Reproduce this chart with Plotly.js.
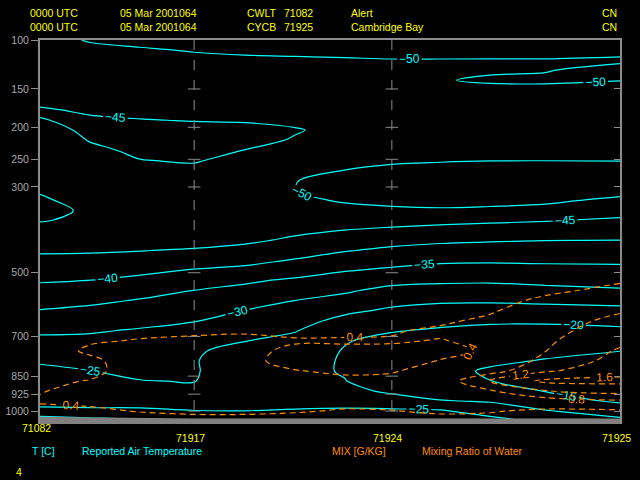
<!DOCTYPE html>
<html><head><meta charset="utf-8">
<script src="https://cdn.plot.ly/plotly-3.0.1.min.js"></script>
<style>html,body{margin:0;padding:0;background:#000;}#chart{width:640px;height:480px;}</style>
</head><body><div id="chart"></div>
<script>
const KAPPA = 0.286;
const stationIds = ['71082', '71917', '71924', '71925'];
const stationDist = [0, 481, 1098, 1810];
const surfacePressure = [1026, 1034, 1034, 1034];
const mandatoryLevels = [150, 200, 250, 300, 500, 700, 850, 925, 1000];
const tickLevels = [100, 150, 200, 250, 300, 500, 700, 850, 925, 1000];
const tickLabels = ['100', '150', '200', '250', '300', '500', '700', '850', '925', '1000'];
const headerLine1 = ['0000 UTC', '05 Mar 2001064', 'CWLT', '71082', 'Alert', 'CN'];
const headerLine2 = ['0000 UTC', '05 Mar 2001064', 'CYCB', '71925', 'Cambridge Bay', 'CN'];
const footerTemp = ['T [C]', 'Reported Air Temperature'];
const footerMix = ['MIX [G/KG]', 'Mixing Ratio of Water'];
const footerNote = '4';

const gridDist = [0, 156, 312, 481, 640, 796, 952, 1098, 1248, 1404, 1576, 1810];
const gridPressure = [100,109,119,129,140,151,163,176,190,204,219,235,252,269,287,306,327,348,369,392,416,441,467,494,522,551,582,613,646,680,715,752,790,829,870,912,955,1000,1046];
const temperature = [
 [-49.0,-50.2,-50.8,-51.3,-51.5,-51.6,-51.6,-51.7,-51.7,-51.7,-51.7,-51.6],
 [-48.5,-49.4,-49.7,-50.2,-50.4,-50.5,-50.6,-50.7,-50.7,-50.6,-50.6,-50.6],
 [-48.0,-48.7,-48.9,-49.3,-49.6,-49.7,-49.8,-49.9,-49.9,-49.9,-49.9,-49.7],
 [-47.5,-48.0,-48.2,-48.5,-48.8,-49.0,-49.1,-49.5,-49.7,-49.8,-49.9,-50.6],
 [-47.0,-47.3,-47.6,-47.8,-48.1,-48.3,-48.4,-49.3,-49.9,-50.2,-50.3,-50.05],
 [-46.5,-46.7,-47.0,-47.1,-47.4,-47.6,-47.8,-49.0,-49.6,-49.6,-49.5,-49.4],
 [-45.8,-46.0,-46.4,-46.5,-46.7,-46.9,-47.2,-48.6,-49.0,-49.2,-49.2,-49.1],
 [-44.7,-45.4,-45.7,-45.9,-46.0,-46.2,-46.6,-48.1,-48.4,-48.8,-48.9,-48.8],
 [-45.1,-44.6,-44.9,-45.1,-45.2,-45.6,-46.1,-47.7,-48.0,-48.4,-48.6,-48.6],
 [-46.5,-44.2,-44.2,-44.3,-44.4,-44.8,-45.8,-47.5,-47.9,-48.3,-48.5,-48.6],
 [-47.5,-44.8,-43.9,-43.8,-44.2,-45.2,-46.1,-47.7,-48.2,-48.5,-48.7,-48.8],
 [-48.0,-45.8,-44.3,-43.8,-45.05,-46.4,-47.0,-48.5,-49.0,-49.2,-49.3,-49.3],
 [-48.5,-46.8,-45.1,-44.7,-46.2,-47.5,-48.6,-49.6,-49.8,-49.95,-49.97,-49.9],
 [-49.0,-47.6,-46.0,-45.8,-47.2,-48.5,-50.05,-50.6,-50.9,-51.0,-51.0,-51.2],
 [-49.4,-48.2,-46.8,-46.8,-48.0,-49.9,-51.0,-51.3,-51.5,-51.6,-51.8,-52.0],
 [-49.8,-48.7,-47.4,-47.6,-48.6,-50.05,-51.2,-51.5,-51.7,-51.8,-52.0,-51.3],
 [-50.3,-49.3,-47.9,-48.2,-48.9,-49.3,-50.3,-50.8,-51.0,-51.0,-50.6,-49.2],
 [-50.6,-49.7,-48.2,-48.5,-49.0,-48.6,-49.0,-49.4,-49.6,-49.3,-48.9,-46.8],
 [-50.2,-49.4,-48.2,-48.5,-48.7,-47.6,-47.0,-46.5,-46.2,-45.8,-45.3,-44.3],
 [-49.0,-48.3,-47.7,-47.9,-47.6,-46.0,-44.95,-44.3,-43.6,-43.0,-42.8,-42.2],
 [-47.3,-46.9,-46.5,-46.5,-45.8,-44.2,-42.6,-41.6,-40.8,-40.4,-40.05,-39.95],
 [-45.5,-45.4,-45.1,-44.6,-43.6,-42.1,-40.3,-39.0,-38.2,-37.8,-38.0,-37.9],
 [-44.0,-43.9,-43.5,-42.2,-41.3,-39.6,-37.7,-36.6,-35.8,-35.6,-35.8,-35.9],
 [-42.2,-42.2,-41.0,-39.6,-38.7,-36.9,-35.2,-34.2,-33.2,-33.0,-33.3,-33.5],
 [-40.4,-39.95,-38.8,-37.5,-35.6,-34.3,-32.9,-31.3,-30.8,-30.6,-31.2,-31.5],
 [-38.6,-38.1,-36.8,-34.95,-33.9,-32.2,-30.6,-28.7,-28.2,-28.2,-28.7,-29.5],
 [-36.7,-36.0,-34.6,-33.7,-32.1,-29.95,-28.5,-26.5,-25.6,-25.5,-25.9,-26.5],
 [-34.8,-33.9,-32.8,-32.0,-29.9,-28.3,-26.0,-24.2,-23.3,-23.2,-23.3,-23.6],
 [-32.8,-32.0,-31.2,-30.2,-28.2,-26.8,-23.6,-22.5,-21.5,-20.8,-20.8,-21.5],
 [-30.8,-30.4,-29.6,-28.5,-26.6,-25.2,-22.0,-20.3,-19.3,-18.6,-18.5,-19.0],
 [-28.9,-29.0,-28.3,-26.8,-25.1,-23.9,-20.3,-18.6,-17.9,-17.2,-17.0,-16.8],
 [-27.1,-27.7,-27.3,-25.4,-23.9,-22.6,-19.7,-17.6,-16.9,-16.2,-15.8,-15.05],
 [-25.4,-26.4,-26.4,-25.2,-23.2,-21.6,-19.6,-17.2,-16.3,-15.6,-14.8,-13.8],
 [-24.2,-24.95,-25.7,-25.3,-22.8,-21.1,-19.7,-17.3,-16.0,-14.6,-13.9,-13.0],
 [-23.8,-23.9,-24.9,-25.1,-22.6,-21.0,-20.1,-17.8,-16.3,-15.05,-13.8,-12.8],
 [-23.8,-23.4,-24.0,-24.4,-22.6,-21.5,-21.0,-19.4,-17.6,-17.0,-14.9,-13.2],
 [-24.3,-23.8,-23.9,-24.2,-23.3,-23.0,-23.0,-21.6,-20.3,-19.6,-16.8,-14.4],
 [-25.5,-25.6,-25.5,-25.05,-25.05,-25.5,-25.8,-26.0,-25.6,-22.8,-20.4,-17.5],
 [-34.0,-32.0,-31.0,-29.0,-28.0,-28.0,-28.0,-29.0,-29.0,-27.0,-24.0,-21.5]
];
const mixPressure = [441,467,494,522,551,582,613,646,680,715,752,790,829,870,912,955,1000,1046];
const mixingRatio = [
 [0.08,0.08,0.09,0.09,0.10,0.10,0.11,0.12,0.13,0.14,0.16,0.20],
 [0.10,0.10,0.11,0.11,0.12,0.12,0.13,0.14,0.15,0.17,0.20,0.25],
 [0.11,0.11,0.12,0.12,0.13,0.14,0.15,0.16,0.18,0.20,0.22,0.30],
 [0.13,0.13,0.14,0.14,0.15,0.16,0.17,0.19,0.21,0.23,0.25,0.37],
 [0.15,0.15,0.16,0.17,0.18,0.19,0.20,0.22,0.24,0.26,0.34,0.48],
 [0.18,0.18,0.19,0.20,0.21,0.22,0.24,0.26,0.28,0.30,0.46,0.60],
 [0.21,0.21,0.22,0.23,0.24,0.25,0.27,0.29,0.30,0.37,0.55,0.76],
 [0.23,0.24,0.26,0.27,0.29,0.30,0.30,0.32,0.36,0.45,0.62,0.90],
 [0.25,0.30,0.36,0.37,0.38,0.35,0.36,0.38,0.44,0.50,0.68,1.00],
 [0.28,0.38,0.41,0.43,0.44,0.42,0.42,0.42,0.39,0.45,0.74,1.10],
 [0.30,0.43,0.46,0.48,0.45,0.36,0.36,0.35,0.34,0.43,0.79,1.25],
 [0.32,0.36,0.50,0.52,0.45,0.33,0.30,0.30,0.41,0.50,0.90,1.35],
 [0.34,0.34,0.52,0.55,0.50,0.41,0.36,0.38,0.50,0.62,1.15,1.45],
 [0.36,0.41,0.53,0.56,0.53,0.48,0.46,0.47,0.52,1.25,1.68,1.70],
 [0.39,0.46,0.52,0.55,0.54,0.52,0.50,0.52,0.60,0.75,1.18,1.35],
 [0.42,0.45,0.48,0.52,0.52,0.52,0.47,0.50,0.55,0.55,0.60,0.75],
 [0.35,0.36,0.41,0.45,0.45,0.42,0.38,0.39,0.44,0.42,0.35,0.35],
 [0.25,0.25,0.30,0.30,0.30,0.30,0.28,0.30,0.30,0.30,0.25,0.25]
];

const P_TOP = 100, P_BOTTOM = 1060;
const kap = p => Math.pow(p, KAPPA);
const CYAN = '#00ffff', ORANGE = '#ff8c00', YELLOW = '#ffff00', GRAY = '#8c8c8c', LABELGRAY = '#a8a8a8';
const FONT = 'Liberation Sans, Arial, sans-serif';
const yRange = [kap(P_BOTTOM), kap(P_TOP)];

const traces = [
  {
    type: 'contour', x: gridDist, y: gridPressure.map(kap), z: temperature,
    autocontour: false,
    contours: {start: -50, end: -15, size: 5, coloring: 'lines', showlabels: true,
      labelfont: {family: FONT, size: 12, color: CYAN}},
    colorscale: [[0, CYAN], [1, CYAN]], showscale: false,
    line: {width: 1.2, smoothing: 1}, hoverinfo: 'skip'
  },
  {
    type: 'contour', x: gridDist, y: mixPressure.map(kap), z: mixingRatio,
    autocontour: false,
    contours: {start: 0.4, end: 1.6, size: 0.4, coloring: 'lines', showlabels: true,
      labelformat: '.1f', labelfont: {family: FONT, size: 12, color: ORANGE}},
    colorscale: [[0, ORANGE], [1, ORANGE]], showscale: false,
    line: {width: 1.2, dash: '6px,4px', smoothing: 1}, hoverinfo: 'skip'
  },
  {
    type: 'scatter', mode: 'lines',
    x: stationDist.concat([stationDist[stationDist.length - 1], stationDist[0]]),
    y: surfacePressure.map(kap).concat([kap(P_BOTTOM), kap(P_BOTTOM)]),
    fill: 'toself', fillcolor: '#808080', line: {color: '#808080', width: 0},
    hoverinfo: 'skip'
  }
];

// station verticals (interior stations)
for (let i = 1; i < stationIds.length - 1; i++) {
  traces.push({
    type: 'scatter', mode: 'lines', xaxis: 'x', yaxis: 'y2',
    x: [stationDist[i], stationDist[i]], y: [kap(P_TOP), kap(surfacePressure[i])],
    line: {color: GRAY, width: 1, dash: '10px,10px'}, hoverinfo: 'skip'
  });
  traces.push({
    type: 'scatter', mode: 'markers', xaxis: 'x', yaxis: 'y2',
    x: mandatoryLevels.map(() => stationDist[i]), y: mandatoryLevels.map(kap),
    marker: {symbol: 'line-ew', size: 9, line: {color: GRAY, width: 1}},
    hoverinfo: 'skip'
  });
}

const pxX = v => (v - 40) / 580;
const pxY = v => (424 - v) / 384;
const ann = (text, x, y, color) => ({
  text, x: pxX(x), y: pxY(y), xref: 'paper', yref: 'paper', xanchor: 'left', yanchor: 'middle',
  showarrow: false, font: {family: FONT, size: 10.5, color}
});
const headerX = [28, 118, 245, 282, 349, 600];
const annotations = [];
headerLine1.forEach((t, i) => annotations.push(ann(t, headerX[i], 13, YELLOW)));
headerLine2.forEach((t, i) => annotations.push(ann(t, headerX[i], 27, YELLOW)));
annotations.push(ann(footerTemp[0], 30, 451, CYAN));
annotations.push(ann(footerTemp[1], 80, 451, CYAN));
annotations.push(ann(footerMix[0], 330, 451, ORANGE));
annotations.push(ann(footerMix[1], 420, 451, ORANGE));
annotations.push(ann(footerNote, 14, 472, YELLOW));
stationIds.forEach((id, i) => annotations.push({
  text: id, x: stationDist[i], xref: 'x', y: pxY(i === 0 ? 428 : 438), yref: 'paper',
  xanchor: 'center', yanchor: 'middle', xshift: -4, showarrow: false,
  font: {family: FONT, size: 10.5, color: YELLOW}
}));

const layout = {
  width: 640, height: 480, autosize: false,
  paper_bgcolor: '#000', plot_bgcolor: '#000',
  margin: {l: 40, r: 20, t: 40, b: 56, pad: 0},
  showlegend: false, hovermode: false,
  xaxis: {range: [stationDist[0], stationDist[stationDist.length - 1]], side: 'top',
    showgrid: false, zeroline: false, showticklabels: false, ticks: '',
    showline: true, linecolor: GRAY, linewidth: 2, fixedrange: true},
  yaxis: {range: yRange, showgrid: false, zeroline: false,
    tickvals: tickLevels.map(kap), ticktext: tickLabels,
    ticks: 'outside', ticklen: 7, tickcolor: GRAY, tickwidth: 1,
    tickfont: {family: FONT, size: 10.5, color: LABELGRAY},
    showline: true, linecolor: GRAY, linewidth: 2, fixedrange: true},
  yaxis2: {range: yRange, overlaying: 'y', side: 'right', showgrid: false, zeroline: false,
    tickvals: tickLevels.map(kap), showticklabels: false,
    ticks: 'inside', ticklen: 6, tickcolor: GRAY, tickwidth: 1,
    showline: true, linecolor: GRAY, linewidth: 2, fixedrange: true},
  annotations
};

Plotly.newPlot('chart', traces, layout, {displayModeBar: false, staticPlot: true});
</script>
</body></html>
